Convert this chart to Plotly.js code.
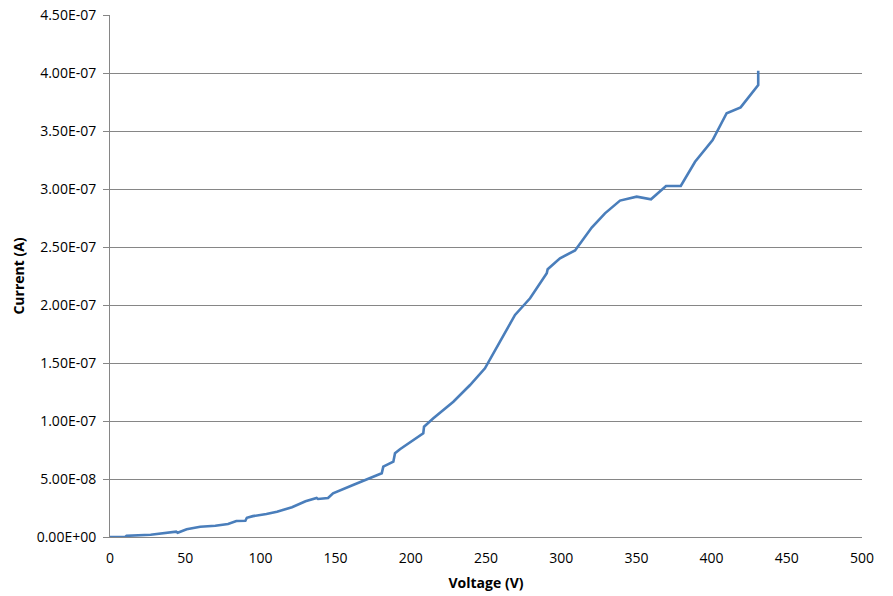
<!DOCTYPE html>
<html>
<head>
<meta charset="utf-8">
<script src="https://cdn.plot.ly/plotly-3.0.1.min.js"></script>
<style>html,body{margin:0;padding:0;background:#fff;}#chart{width:893px;height:596px;}</style>
</head>
<body>
<div id="chart"></div>
<script>
var voltage = [0, 10, 11, 27, 44, 45, 51, 56.5, 60, 70, 78.5, 84, 90, 91, 95, 104, 111, 121, 130, 137.4, 138.3, 145, 148.3, 161.6, 170.7, 180.7, 181.7, 188.4, 189.5, 192.8, 208.3, 208.8, 215, 228.3, 239.4, 249.3, 259.3, 269.3, 279.3, 290.4, 291, 299.2, 309.2, 320.3, 329.1, 339.1, 350.2, 359.7, 369.7, 379.5, 389, 400.7, 410, 419.3, 431, 431];
var current = [0, 0, 0.01e-7, 0.02e-7, 0.046e-7, 0.037e-7, 0.066e-7, 0.08e-7, 0.089e-7, 0.097e-7, 0.112e-7, 0.138e-7, 0.14e-7, 0.166e-7, 0.18e-7, 0.198e-7, 0.218e-7, 0.256e-7, 0.308e-7, 0.336e-7, 0.328e-7, 0.336e-7, 0.377e-7, 0.448e-7, 0.497e-7, 0.549e-7, 0.606e-7, 0.649e-7, 0.722e-7, 0.756e-7, 0.894e-7, 0.951e-7, 1.023e-7, 1.166e-7, 1.31e-7, 1.454e-7, 1.684e-7, 1.914e-7, 2.058e-7, 2.273e-7, 2.308e-7, 2.403e-7, 2.47e-7, 2.668e-7, 2.79e-7, 2.9e-7, 2.934e-7, 2.911e-7, 3.026e-7, 3.026e-7, 3.235e-7, 3.422e-7, 3.653e-7, 3.704e-7, 3.897e-7, 4.02e-7];
var yTickVals = [0, 0.5e-7, 1e-7, 1.5e-7, 2e-7, 2.5e-7, 3e-7, 3.5e-7, 4e-7, 4.5e-7];
var yTickText = ["0.00E+00", "5.00E-08", "1.00E-07", "1.50E-07", "2.00E-07", "2.50E-07", "3.00E-07", "3.50E-07", "4.00E-07", "4.50E-07"];
var xTickVals = [0, 50, 100, 150, 200, 250, 300, 350, 400, 450, 500];

var trace = {
  x: voltage, y: current, type: 'scatter', mode: 'lines',
  line: {color: '#4a7ebb', width: 2.6}, hoverinfo: 'none'
};
var layout = {
  width: 893, height: 596,
  margin: {l: 110, r: 31, t: 15, b: 59},
  paper_bgcolor: '#ffffff', plot_bgcolor: '#ffffff',
  showlegend: false,
  font: {family: 'Open Sans, Liberation Sans, sans-serif', size: 14, color: '#000'},
  xaxis: {
    range: [0, 500], tickvals: xTickVals, ticks: '', showgrid: false, zeroline: false,
    showline: true, linecolor: '#868686', linewidth: 1,
    ticklabelstandoff: 8,
    tickfont: {size: 14, color: '#000'},
    title: {text: '<b>Voltage (V)</b>', font: {size: 14}, standoff: 12}
  },
  yaxis: {
    range: [0, 4.5e-7], tickvals: yTickVals, ticktext: yTickText,
    ticks: 'outside', ticklen: 6, tickcolor: '#868686', tickwidth: 1,
    ticklabelstandoff: 4,
    showgrid: true, gridcolor: '#868686', gridwidth: 1, zeroline: false,
    showline: true, linecolor: '#868686', linewidth: 1,
    tickfont: {size: 14, color: '#000'},
    title: {text: '<b>Current (A)</b>', font: {size: 14}, standoff: 8}
  }
};
Plotly.newPlot('chart', [trace], layout, {staticPlot: true, displayModeBar: false});
</script>
</body>
</html>
